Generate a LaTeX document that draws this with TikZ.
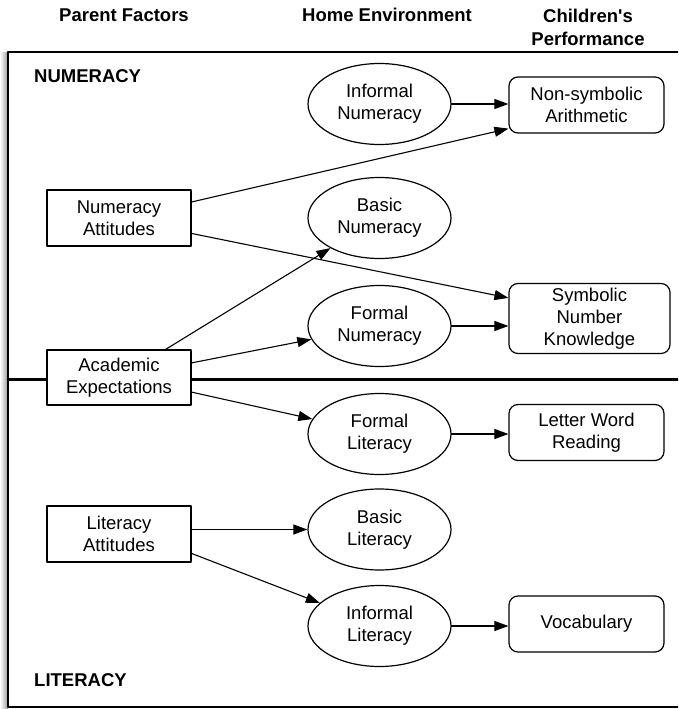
\documentclass[tikz,border=0pt]{standalone}
\usepackage{fontspec}
\setmainfont{Liberation Sans}
\usetikzlibrary{shapes.geometric,arrows.meta,calc,positioning}

\begin{document}
\begin{tikzpicture}[x=1pt,y=-1pt,line join=round,line cap=round,
	font=\fontsize{18.5}{22}\selectfont,
	factor/.style={draw,fill=white,line width=1.2pt,minimum width=144pt,minimum height=56pt,align=center,inner sep=0pt},
	home/.style={draw,ellipse,line width=1.2pt,minimum width=143pt,minimum height=81pt,align=center,inner sep=0pt},
	perf/.style={draw,rounded corners=9pt,line width=1.2pt,minimum width=155pt,minimum height=56pt,align=center,inner sep=0pt},
	head/.style={font=\fontsize{18.5}{24}\selectfont\bfseries,align=center,inner sep=0pt},
	link/.style={line width=1.1pt,-{Triangle[length=14pt,width=10pt]}}]
		\useasboundingbox (0,0) rectangle (678,709);
		\clip (0,0) rectangle (678,709);
		\shade[left color=white,right color=black!40] (0,53) rectangle (8,708);
		\draw[line width=1.6pt,fill=white] (8,52) rectangle (700,707);
		\draw[line width=3pt] (8,379) -- (700,379);
		\node[head,anchor=base] (hpar) at (124,22) {Parent Factors};
		\node[head,anchor=base] (hhome) at (387,22) {Home Environment};
		\node[head,anchor=base] (hchild) at (588,46) {Children\textquotesingle s\\Performance};
		\node[head,anchor=base west] (numlab) at (34,82) {NUMERACY};
		\node[head,anchor=base west] (litlab) at (34,686) {LITERACY};
		\node[factor] (numatt) at (119,218) {Numeracy\\Attitudes};
		\node[factor,minimum height=55pt] (acaexp) at (119,377.5) {Academic\\Expectations};
		\node[factor] (litatt) at (119,534) {Literacy\\Attitudes};
		\node[home] (infnum) at (379.5,104) {Informal\\Numeracy};
		\node[home] (basnum) at (379.5,218) {Basic\\Numeracy};
		\node[home] (fornum) at (379.5,326) {Formal\\Numeracy};
		\node[home] (forlit) at (379.5,434) {Formal\\Literacy};
		\node[home] (baslit) at (379.5,529.5) {Basic\\Literacy};
		\node[home] (inflit) at (379.5,626) {Informal\\Literacy};
		\node[perf] (nonsym) at (586.5,105) {Non-symbolic\\Arithmetic};
		\node[perf,minimum width=161pt,minimum height=70pt] (symnum) at (589.5,318.5) {Symbolic\\Number\\Knowledge};
		\node[perf] (letwor) at (586.5,432.5) {Letter Word\\Reading};
		\node[perf] (vocab) at (586.5,624) {Vocabulary};
		\foreach \a/\b in {infnum/nonsym,fornum/symnum,forlit/letwor,inflit/vocab}{\draw[link](\a.east)--(\a.east -| \b.west);}
		\draw[link] ($(numatt.north east)!0.22!(numatt.south east)$) -- ($(nonsym.south west)+(0,-5)$);
		\draw[link] ($(numatt.north east)!0.77!(numatt.south east)$) -- ($(symnum.north west)+(0,15)$);
		\draw[link] ($(acaexp.north east)+(-26,0)$) -- (basnum);
		\draw[link] ($(acaexp.north east)!0.24!(acaexp.south east)$) -- (fornum);
		\draw[link] ($(acaexp.north east)!0.76!(acaexp.south east)$) -- (forlit);
		\draw[link] (litatt.east |- baslit.west) -- (baslit.west);
		\draw[link] ($(litatt.north east)!0.84!(litatt.south east)$) -- (inflit);
\end{tikzpicture}
\end{document}
